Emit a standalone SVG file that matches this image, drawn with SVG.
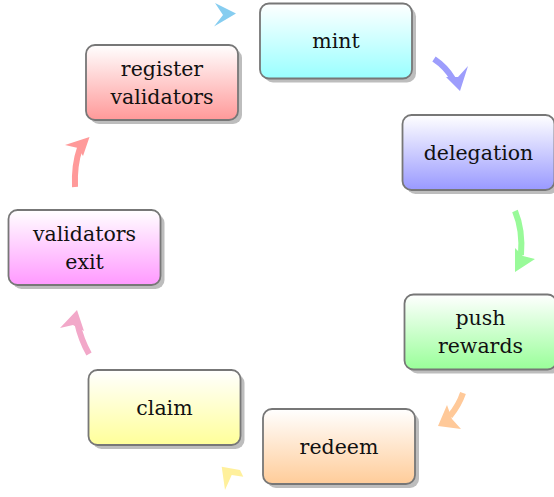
<svg xmlns="http://www.w3.org/2000/svg" width="554" height="497" viewBox="0 0 554 497">
<defs>
<linearGradient id="gMint" x1="0" y1="0" x2="0" y2="1"><stop offset="0" stop-color="#ffffff"/><stop offset="1" stop-color="#99ffff"/></linearGradient>
<linearGradient id="gDel" x1="0" y1="0" x2="0" y2="1"><stop offset="0" stop-color="#ffffff"/><stop offset="1" stop-color="#9999ff"/></linearGradient>
<linearGradient id="gPush" x1="0" y1="0" x2="0" y2="1"><stop offset="0" stop-color="#ffffff"/><stop offset="1" stop-color="#99ff99"/></linearGradient>
<linearGradient id="gRed" x1="0" y1="0" x2="0" y2="1"><stop offset="0" stop-color="#ffffff"/><stop offset="1" stop-color="#ffcc99"/></linearGradient>
<linearGradient id="gClaim" x1="0" y1="0" x2="0" y2="1"><stop offset="0" stop-color="#ffffff"/><stop offset="1" stop-color="#ffff99"/></linearGradient>
<linearGradient id="gExit" x1="0" y1="0" x2="0" y2="1"><stop offset="0" stop-color="#ffffff"/><stop offset="1" stop-color="#ff99ff"/></linearGradient>
<linearGradient id="gReg" x1="0" y1="0" x2="0" y2="1"><stop offset="0" stop-color="#ffffff"/><stop offset="1" stop-color="#ff9999"/></linearGradient>
</defs>
<style>
.shadow{fill:#bdbdbd}
.box{stroke:#777777;stroke-width:1.8}
.lbl{font-family:'DejaVu Serif','Liberation Serif',serif;font-size:20.5px;fill:#111111;text-anchor:middle}
.shaft{fill:none;stroke-width:6}
</style>

<g id="connectors">
  <g id="e-reg-mint" fill="#86cdf0" stroke="none">
    <path d="M215,3 L236,13.5 L214,26.5 L223,15 Z"/>
  </g>
  <g id="e-mint-del">
    <path class="shaft" stroke="#9d9dfc" d="M434,59 Q446,67 453,79"/>
    <path fill="#9d9dfc" d="M460,91 L468,66 L458,77 L446,77 Z"/>
  </g>
  <g id="e-del-push">
    <path class="shaft" stroke="#99fa99" d="M515,211 Q523,230 521,255"/>
    <path fill="#99fa99" d="M515,272 L535,259 L523,256 L515,248 Z"/>
  </g>
  <g id="e-push-red">
    <path class="shaft" stroke="#ffc999" d="M463,393 Q459,405 450,416"/>
    <path fill="#ffc999" d="M438,426 L461,429 L452,419 L447,405 Z"/>
  </g>
  <g id="e-red-claim" fill="#fff09c" stroke="none">
    <path d="M221.7,466.7 L240,470 L243.3,476.7 L231.7,475 L225,490 Z"/>
  </g>
  <g id="e-claim-exit">
    <path class="shaft" stroke="#f2a8c9" d="M89,354 Q81,340 77,322"/>
    <path fill="#f2a8c9" d="M77,310 L60,328 L73,325 L84,331 Z"/>
  </g>
  <g id="e-exit-reg">
    <path class="shaft" stroke="#ff9a9a" d="M75,187 Q74,165 80,148"/>
    <path fill="#ff9a9a" d="M89.5,137 L65,145 L78,148 L83,156 Z"/>
  </g>
</g>

<g id="mint">
  <rect class="shadow" x="264" y="7.5" width="152" height="75" rx="9"/>
  <rect class="box" fill="url(#gMint)" x="260" y="3.5" width="152" height="75" rx="9"/>
  <text class="lbl" x="336" y="48">mint</text>
</g>
<g id="delegation">
  <rect class="shadow" x="406.5" y="119" width="152" height="75" rx="9"/>
  <rect class="box" fill="url(#gDel)" x="402.5" y="115" width="152" height="75" rx="9"/>
  <text class="lbl" x="478.5" y="159.5">delegation</text>
</g>
<g id="push-rewards">
  <rect class="shadow" x="408.5" y="298.5" width="152" height="75" rx="9"/>
  <rect class="box" fill="url(#gPush)" x="404.5" y="294.5" width="152" height="75" rx="9"/>
  <text class="lbl" x="480.5" y="325">push</text>
  <text class="lbl" x="480.5" y="353">rewards</text>
</g>
<g id="redeem">
  <rect class="shadow" x="267" y="413" width="152" height="75" rx="9"/>
  <rect class="box" fill="url(#gRed)" x="263" y="409" width="152" height="75" rx="9"/>
  <text class="lbl" x="339" y="453.5">redeem</text>
</g>
<g id="claim">
  <rect class="shadow" x="92.5" y="374" width="152" height="75" rx="9"/>
  <rect class="box" fill="url(#gClaim)" x="88.5" y="370" width="152" height="75" rx="9"/>
  <text class="lbl" x="164.5" y="414.5">claim</text>
</g>
<g id="validators-exit">
  <rect class="shadow" x="12.5" y="214" width="152" height="75" rx="9"/>
  <rect class="box" fill="url(#gExit)" x="8.5" y="210" width="152" height="75" rx="9"/>
  <text class="lbl" x="84.5" y="240.5">validators</text>
  <text class="lbl" x="84.5" y="268.5">exit</text>
</g>
<g id="register-validators">
  <rect class="shadow" x="90" y="49" width="152" height="75" rx="9"/>
  <rect class="box" fill="url(#gReg)" x="86" y="45" width="152" height="75" rx="9"/>
  <text class="lbl" x="162" y="75.5">register</text>
  <text class="lbl" x="162" y="103.5">validators</text>
</g>
</svg>
